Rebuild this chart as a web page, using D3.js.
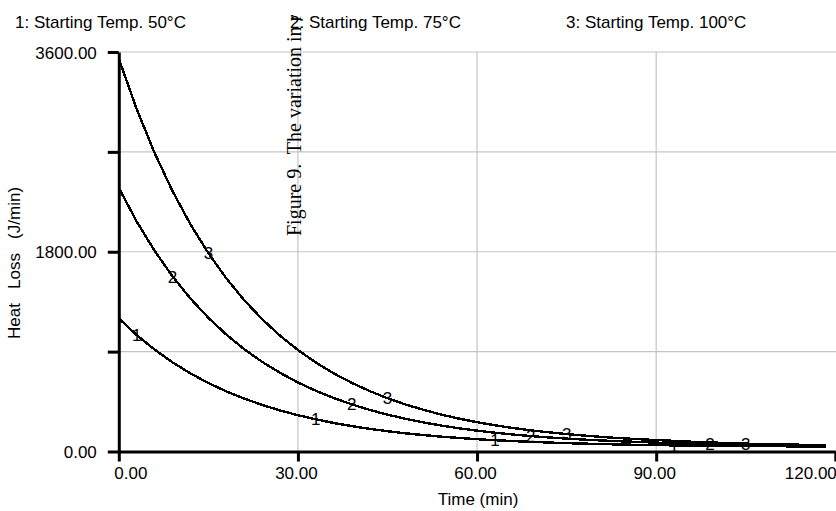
<!DOCTYPE html>
<html>
<head>
<meta charset="utf-8">
<script src="https://cdn.jsdelivr.net/npm/d3@7"></script>
<style>
  html, body { margin: 0; padding: 0; background: #fff; }
  svg { display: block; }
  text { font-family: "Liberation Sans", Arial, sans-serif; fill: #000; }
</style>
</head>
<body>
<script>
// ---------------- data ----------------
const times = [0,3,6,9,12,15,18,21,24,27,30,33,36,39,42,45,48,51,54,57,60,63,66,69,72,75,78,81,84,87,90,93,96,99,102,105,108,111,114,117,118.5];
const series1 = [1200,1049,918,803,704,617,542,477,420,370,327,290,257,229,204,183,164,148,134,122,111,102,94,87,81,75,71,67,63,60,58,55,53,52,50,49,48,47,46,45,45];
const series2 = [2375,2072,1808,1578,1378,1205,1054,922,808,709,622,547,482,425,375,332,295,262,234,209,188,169,153,139,127,116,107,99,92,86,80,76,72,68,65,63,60,58,57,55,54];
const series3 = [3540,3085,2690,2346,2047,1787,1561,1364,1193,1044,915,802,704,619,545,480,424,376,333,296,264,236,212,191,173,157,143,131,120,111,103,96,88,82,76,71,67,64,61,59,58];
const seriesNames = ["1: Starting Temp. 50°C", "2: Starting Temp. 75°C", "3: Starting Temp. 100°C"];
const seriesIds = ["1", "2", "3"];
const labelTimes = [[3,33,63,93],[9,39,69,99],[15,45,75,105]];
const yTicks = [0, 900, 1800, 2700, 3600];
const yLabelled = [0, 1800, 3600];
const xTicks = [0, 30, 60, 90, 120];
const xTitle = "Time (min)";
const yTitle = "Heat   Loss   (J/min)";
const overlayText = "Figure 9.  The variation in r";

// ---------------- layout ----------------
const W = 836, H = 511;
const x = d3.scaleLinear().domain([0, 120]).range([118.8, 835.3]);
const y = d3.scaleLinear().domain([0, 3600]).range([451.5, 52]);
const FS = 17;

const svg = d3.select("body").append("svg").attr("width", W).attr("height", H);
svg.append("rect").attr("width", W).attr("height", H).attr("fill", "#fff");

// gridlines
const grid = svg.append("g").attr("stroke", "#c4c4c4").attr("stroke-width", 1.2);
grid.selectAll("line.h").data(yTicks.filter(d => d > 0)).join("line")
  .attr("x1", x(0)).attr("x2", W).attr("y1", d => y(d)).attr("y2", d => y(d));
grid.selectAll("line.v").data(xTicks.filter(d => d > 0 && d < 120)).join("line")
  .attr("y1", y(3600)).attr("y2", y(0)).attr("x1", d => x(d)).attr("x2", d => x(d));

// curves
const allSeries = [series1, series2, series3];
const line = d3.line().x(d => x(d[0])).y(d => y(d[1]));
allSeries.forEach((s, i) => {
  const pts = times.map((t, k) => [t, s[k]]);
  svg.append("path").datum(pts).attr("d", line)
    .attr("fill", "none").attr("stroke", "#000").attr("stroke-width", 2.4)
    .attr("shape-rendering", "crispEdges");
});

// curve id labels on the curves
allSeries.forEach((s, i) => {
  labelTimes[i].forEach(t => {
    const v = d3.scaleLinear().domain(times).range(s)(t);
    svg.append("text").attr("x", x(t)).attr("y", y(v)).attr("dy", "0.36em")
      .attr("text-anchor", "middle").attr("font-size", FS).text(seriesIds[i]);
  });
});

// y axis
const yAxis = d3.axisLeft(y).tickValues(yTicks).tickSize(11).tickSizeOuter(0).tickPadding(11)
  .tickFormat(d => yLabelled.includes(d) ? d.toFixed(2) : "");
const gy = svg.append("g").attr("transform", `translate(${x(0)},0)`).call(yAxis);
gy.select(".domain").attr("stroke", "#000").attr("stroke-width", 3);
gy.selectAll(".tick line").attr("stroke", "#000").attr("stroke-width", 3);
gy.selectAll(".tick text").attr("font-size", FS).attr("font-family", "Liberation Sans, Arial, sans-serif").attr("dy", "0.36em");

// x axis
const xAxis = d3.axisBottom(x).tickValues(xTicks).tickSize(10).tickSizeOuter(0).tickPadding(5)
  .tickFormat(d => d.toFixed(2));
const gx = svg.append("g").attr("transform", `translate(0,${y(0)})`).call(xAxis);
gx.select(".domain").attr("stroke", "#000").attr("stroke-width", 3);
gx.selectAll(".tick line").attr("stroke", "#000").attr("stroke-width", 3);
gx.selectAll(".tick text").attr("font-size", FS).attr("font-family", "Liberation Sans, Arial, sans-serif")
  .attr("text-anchor", d => d === 0 ? "start" : (d === 120 ? "end" : "middle"))
  .attr("dx", d => d === 0 ? -5 : (d === 120 ? 1 : -2));

// axis titles
svg.append("text").attr("x", 478).attr("y", 505).attr("text-anchor", "middle")
  .attr("font-size", FS).text(xTitle);
svg.append("text").attr("transform", "translate(20,263) rotate(-90)").attr("text-anchor", "middle")
  .attr("font-size", FS).style("white-space", "pre").text(yTitle);

// legend
const legendX = [15, 290, 566];
seriesNames.forEach((n, i) => {
  svg.append("text").attr("x", legendX[i]).attr("y", 28).attr("font-size", FS).text(n);
});

// overlay rotated serif caption
svg.append("text").attr("transform", "translate(301,236) rotate(-90)")
  .attr("text-anchor", "start").attr("font-size", 20)
  .style("font-family", "'Liberation Serif', 'Times New Roman', serif")
  .style("white-space", "pre").text(overlayText);
</script>
</body>
</html>
